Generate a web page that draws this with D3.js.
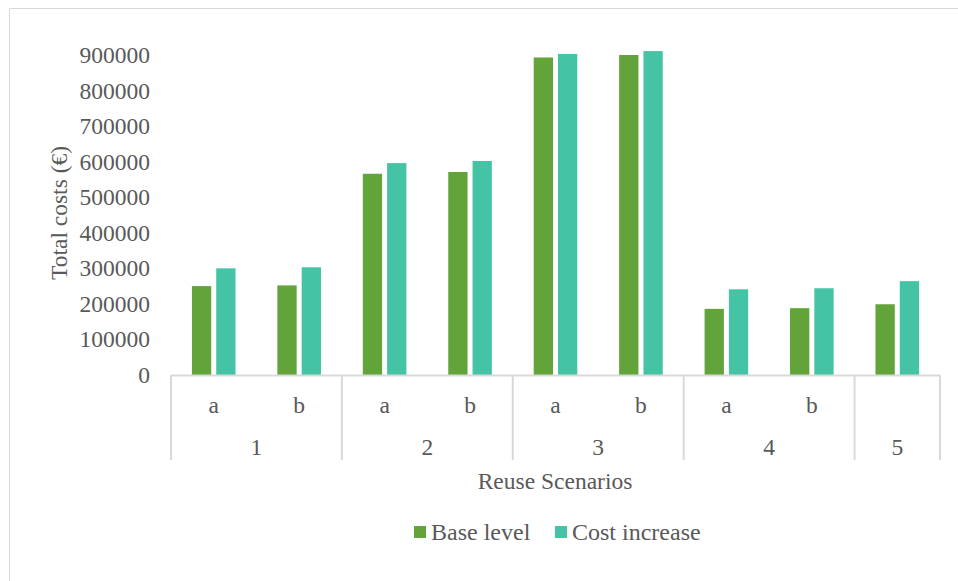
<!DOCTYPE html>
<html lang="en">
  <head>
    <meta charset='utf-8'>
    <script src='https://d3js.org/d3.v7.min.js'></script>
    <title>Reuse Scenarios Total Costs</title>
    <style>
      body { margin: 0px; background: #fff; }
    </style>
  </head>
  <body>
    <div id="viz"></div>
    <script>
      // data
      const groups = ['1', '1', '2', '2', '3', '3', '4', '4', '5'];
      const subLabels = ['a', 'b', 'a', 'b', 'a', 'b', 'a', 'b', ''];
      const baseLevel = [250000, 252000, 566000, 571000, 893000, 900000, 186000, 188000, 199000];
      const costIncrease = [300000, 303000, 596000, 602000, 903000, 911000, 241000, 244000, 264000];
      const seriesNames = ['Base level', 'Cost increase'];
      const seriesColors = ['#63A43A', '#45C3A5'];
      const yTicks = [0, 100000, 200000, 300000, 400000, 500000, 600000, 700000, 800000, 900000];

      const width = 958, height = 581;
      const margin = { left: 171, right: 18, top: 55, bottom: 206 };
      const innerWidth = width - margin.left - margin.right;
      const innerHeight = height - margin.top - margin.bottom;
      const gridColor = '#D9D9D9';
      const textColor = '#595959';
      const fontFamily = "'Liberation Serif', 'Times New Roman', serif";
      const fontSize = 23.5;

      const svg = d3.select('#viz').append('svg')
        .attr('width', width)
        .attr('height', height)
        .attr('font-family', fontFamily);

      // chart frame (only top/left visible in the reference)
      svg.append('line').attr('x1', 9.5).attr('x2', width).attr('y1', 8.5).attr('y2', 8.5)
        .attr('stroke', gridColor).attr('stroke-width', 1);
      svg.append('line').attr('x1', 9.5).attr('x2', 9.5).attr('y1', 8.5).attr('y2', height)
        .attr('stroke', gridColor).attr('stroke-width', 1);

      const g = svg.append('g')
        .attr('transform', `translate(${margin.left},${margin.top})`);

      const idx = d3.range(baseLevel.length);

      const xScale = d3.scaleBand()
        .domain(idx)
        .range([0, innerWidth])
        .padding(0);

      const barW = 19.3, barGap = 5;
      const xInner = d3.scaleOrdinal()
        .domain([0, 1])
        .range([-(barW + barGap / 2), barGap / 2]);

      const yScale = d3.scaleLinear()
        .domain([0, 900000])
        .range([innerHeight, 0]);

      // y axis labels (no line, no ticks)
      const yAxis = d3.axisLeft(yScale)
        .tickValues(yTicks)
        .tickFormat(d3.format('d'))
        .tickSize(0)
        .tickPadding(21);
      const yAxisG = g.append('g').call(yAxis)
        .attr('font-family', fontFamily)
        .attr('font-size', fontSize);
      yAxisG.select('.domain').remove();
      yAxisG.selectAll('text').attr('fill', textColor);

      // bars
      const series = [baseLevel, costIncrease];
      series.forEach((vals, s) => {
        g.selectAll('.bar-' + s)
          .data(idx)
          .enter().append('rect')
          .attr('class', 'bar-' + s)
          .attr('x', i => xScale(i) + xScale.bandwidth() / 2 + xInner(s))
          .attr('width', barW)
          .attr('y', i => yScale(vals[i]))
          .attr('height', i => innerHeight - yScale(vals[i]))
          .attr('fill', seriesColors[s]);
      });

      // multi-level category axis
      const axisG = g.append('g').attr('transform', `translate(0,${innerHeight})`);
      axisG.append('line')
        .attr('x1', 0).attr('x2', innerWidth).attr('y1', 0.5).attr('y2', 0.5)
        .attr('stroke', gridColor).attr('stroke-width', 2);

      // group boundaries
      const groupNames = Array.from(new Set(groups));
      const groupSpans = groupNames.map(name => {
        const members = idx.filter(i => groups[i] === name);
        return { name, start: xScale(members[0]), end: xScale(members[members.length - 1]) + xScale.bandwidth() };
      });
      const boundaries = [0].concat(groupSpans.map(d => d.end));
      axisG.selectAll('.sep')
        .data(boundaries)
        .enter().append('line')
        .attr('class', 'sep')
        .attr('x1', d => d).attr('x2', d => d)
        .attr('y1', 0).attr('y2', 85)
        .attr('stroke', gridColor).attr('stroke-width', 2);

      axisG.selectAll('.sub')
        .data(idx.filter(i => subLabels[i] !== ''))
        .enter().append('text')
        .attr('class', 'sub')
        .attr('x', i => xScale(i) + xScale.bandwidth() / 2)
        .attr('y', 38)
        .attr('text-anchor', 'middle')
        .attr('font-size', fontSize)
        .attr('fill', textColor)
        .text(i => subLabels[i]);

      axisG.selectAll('.grp')
        .data(groupSpans)
        .enter().append('text')
        .attr('class', 'grp')
        .attr('x', d => (d.start + d.end) / 2)
        .attr('y', 80)
        .attr('text-anchor', 'middle')
        .attr('font-size', fontSize)
        .attr('fill', textColor)
        .text(d => d.name);

      // axis titles
      svg.append('text')
        .attr('x', 555)
        .attr('y', 489)
        .attr('text-anchor', 'middle')
        .attr('font-size', fontSize)
        .attr('fill', textColor)
        .text('Reuse Scenarios');

      svg.append('text')
        .attr('transform', 'translate(67,213) rotate(-90)')
        .attr('text-anchor', 'middle')
        .attr('font-size', fontSize)
        .attr('fill', textColor)
        .text('Total costs (€)');

      // legend
      const legendX = [414, 555];
      const legend = svg.append('g');
      seriesNames.forEach((name, s) => {
        legend.append('rect')
          .attr('x', legendX[s]).attr('y', 526)
          .attr('width', 12).attr('height', 12)
          .attr('fill', seriesColors[s]);
        legend.append('text')
          .attr('x', legendX[s] + 17)
          .attr('y', 540)
          .attr('font-size', 24)
          .attr('fill', textColor)
          .text(name);
      });
    </script>
  </body>
</html>
